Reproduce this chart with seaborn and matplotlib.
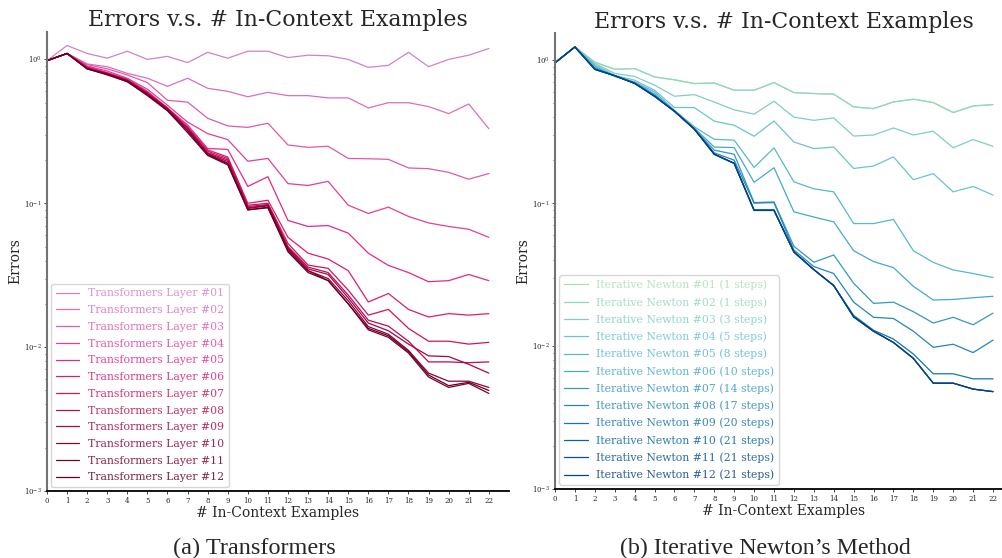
import numpy as np
import pandas as pd
import matplotlib
matplotlib.use('Agg')

import matplotlib.pyplot as plt
from matplotlib.ticker import NullFormatter
import seaborn as sns

# number of in-context examples (x axis)
n_examples = list(range(23))

# (a) Transformers, error per layer
tf_layer01 = [0.98, 1.25, 1.10, 1.02, 1.14, 1.00, 1.05, 0.95, 1.12, 1.02, 1.14, 1.14, 1.03, 1.07, 1.06, 1.00, 0.88, 0.91, 1.12, 0.89, 1.00, 1.07, 1.19]
tf_layer02 = [0.98, 1.10, 0.93, 0.89, 0.80, 0.74, 0.65, 0.74, 0.63, 0.60, 0.55, 0.59, 0.56, 0.56, 0.54, 0.54, 0.46, 0.50, 0.50, 0.47, 0.42, 0.49, 0.33]
tf_layer03 = [0.98, 1.10, 0.92, 0.86, 0.78, 0.69, 0.52, 0.505, 0.39, 0.345, 0.337, 0.36, 0.254, 0.245, 0.249, 0.205, 0.204, 0.202, 0.176, 0.174, 0.164, 0.147, 0.161]
tf_layer04 = [0.98, 1.10, 0.90, 0.83, 0.74, 0.62, 0.48, 0.367, 0.305, 0.277, 0.196, 0.205, 0.137, 0.133, 0.142, 0.097, 0.085, 0.094, 0.081, 0.073, 0.069, 0.066, 0.058]
tf_layer05 = [0.98, 1.10, 0.89, 0.81, 0.73, 0.60, 0.46, 0.35, 0.24, 0.237, 0.131, 0.153, 0.076, 0.069, 0.070, 0.062, 0.045, 0.037, 0.033, 0.0285, 0.029, 0.032, 0.029]
tf_layer06 = [0.98, 1.10, 0.88, 0.80, 0.72, 0.59, 0.455, 0.34, 0.235, 0.21, 0.100, 0.105, 0.058, 0.045, 0.041, 0.034, 0.0206, 0.0236, 0.0183, 0.0162, 0.0171, 0.0167, 0.0171]
tf_layer07 = [0.98, 1.10, 0.88, 0.80, 0.72, 0.585, 0.45, 0.335, 0.23, 0.205, 0.097, 0.100, 0.0525, 0.0372, 0.0353, 0.0249, 0.0167, 0.0183, 0.0135, 0.0110, 0.0110, 0.0105, 0.0108]
tf_layer08 = [0.98, 1.10, 0.87, 0.80, 0.72, 0.58, 0.46, 0.33, 0.225, 0.200, 0.095, 0.098, 0.050, 0.036, 0.033, 0.023, 0.0154, 0.0140, 0.0110, 0.0079, 0.0079, 0.0078, 0.0079]
tf_layer09 = [0.98, 1.10, 0.87, 0.79, 0.71, 0.58, 0.45, 0.33, 0.222, 0.195, 0.093, 0.097, 0.049, 0.035, 0.032, 0.022, 0.0147, 0.0130, 0.0105, 0.0087, 0.0086, 0.0076, 0.0066]
tf_layer10 = [0.98, 1.10, 0.86, 0.79, 0.71, 0.57, 0.45, 0.32, 0.220, 0.190, 0.092, 0.096, 0.048, 0.034, 0.030, 0.021, 0.0139, 0.0123, 0.0095, 0.0066, 0.0058, 0.0058, 0.00525]
tf_layer11 = [0.98, 1.10, 0.86, 0.79, 0.70, 0.57, 0.44, 0.32, 0.218, 0.188, 0.090, 0.094, 0.047, 0.034, 0.029, 0.020, 0.0132, 0.0117, 0.0091, 0.0062, 0.00525, 0.0056, 0.00477]
tf_layer12 = [0.98, 1.10, 0.86, 0.78, 0.70, 0.56, 0.44, 0.31, 0.215, 0.185, 0.090, 0.093, 0.046, 0.033, 0.029, 0.020, 0.0135, 0.0120, 0.0093, 0.0064, 0.0054, 0.0057, 0.0050]

# (b) Iterative Newton, error per number of steps
newton01 = [0.96, 1.24, 0.97, 0.865, 0.875, 0.765, 0.73, 0.687, 0.694, 0.617, 0.617, 0.698, 0.594, 0.585, 0.579, 0.472, 0.459, 0.511, 0.534, 0.506, 0.431, 0.479, 0.49]
newton02 = [0.96, 1.24, 0.97, 0.865, 0.875, 0.765, 0.73, 0.687, 0.694, 0.617, 0.617, 0.698, 0.594, 0.585, 0.579, 0.472, 0.459, 0.511, 0.534, 0.506, 0.431, 0.479, 0.49]
newton03 = [0.96, 1.24, 0.95, 0.81, 0.77, 0.67, 0.56, 0.575, 0.51, 0.45, 0.42, 0.517, 0.40, 0.38, 0.395, 0.295, 0.30, 0.336, 0.30, 0.319, 0.244, 0.279, 0.25]
newton04 = [0.96, 1.24, 0.93, 0.785, 0.725, 0.617, 0.467, 0.467, 0.375, 0.351, 0.294, 0.376, 0.268, 0.241, 0.247, 0.175, 0.182, 0.211, 0.146, 0.161, 0.120, 0.131, 0.114]
newton05 = [0.96, 1.24, 0.91, 0.77, 0.705, 0.60, 0.447, 0.342, 0.28, 0.276, 0.178, 0.244, 0.141, 0.126, 0.120, 0.072, 0.072, 0.077, 0.0465, 0.0385, 0.0341, 0.0322, 0.0302]
newton06 = [0.96, 1.24, 0.89, 0.78, 0.70, 0.58, 0.44, 0.335, 0.247, 0.245, 0.140, 0.177, 0.087, 0.080, 0.074, 0.0465, 0.039, 0.0354, 0.0262, 0.0210, 0.0212, 0.0218, 0.0223]
newton07 = [0.96, 1.24, 0.88, 0.78, 0.69, 0.57, 0.44, 0.33, 0.235, 0.22, 0.101, 0.102, 0.0499, 0.0386, 0.0434, 0.0275, 0.0199, 0.0203, 0.0174, 0.0145, 0.0159, 0.0141, 0.0170]
newton08 = [0.96, 1.24, 0.87, 0.78, 0.69, 0.565, 0.44, 0.33, 0.225, 0.20, 0.100, 0.101, 0.047, 0.036, 0.0322, 0.0203, 0.0159, 0.0156, 0.0127, 0.0098, 0.0103, 0.0090, 0.0110]
newton09 = [0.96, 1.24, 0.865, 0.78, 0.69, 0.56, 0.44, 0.33, 0.22, 0.19, 0.090, 0.090, 0.0455, 0.0343, 0.0265, 0.0164, 0.0129, 0.0112, 0.0088, 0.0064, 0.0064, 0.0059, 0.0059]
newton10 = [0.96, 1.24, 0.865, 0.78, 0.69, 0.56, 0.44, 0.33, 0.22, 0.19, 0.089, 0.089, 0.0455, 0.0343, 0.0265, 0.0160, 0.0127, 0.0106, 0.0082, 0.0055, 0.0055, 0.0050, 0.0048]
newton11 = [0.96, 1.24, 0.865, 0.78, 0.69, 0.56, 0.44, 0.33, 0.22, 0.19, 0.089, 0.089, 0.0455, 0.0343, 0.0265, 0.0160, 0.0127, 0.0106, 0.0082, 0.0055, 0.0055, 0.0050, 0.0048]
newton12 = [0.96, 1.24, 0.865, 0.78, 0.69, 0.56, 0.44, 0.33, 0.22, 0.19, 0.089, 0.089, 0.0455, 0.0343, 0.0265, 0.0160, 0.0127, 0.0106, 0.0082, 0.0055, 0.0055, 0.0050, 0.0048]
newton_steps = [1, 1, 3, 5, 8, 10, 14, 17, 20, 21, 21, 21]

tf_series = [tf_layer01, tf_layer02, tf_layer03, tf_layer04, tf_layer05, tf_layer06,
             tf_layer07, tf_layer08, tf_layer09, tf_layer10, tf_layer11, tf_layer12]
newton_series = [newton01, newton02, newton03, newton04, newton05, newton06,
                 newton07, newton08, newton09, newton10, newton11, newton12]
tf_labels = [f"Transformers Layer #{i:02d}" for i in range(1, 13)]
newton_labels = [f"Iterative Newton #{i:02d} ({s} steps)" for i, s in enumerate(newton_steps, 1)]


def long_table(series, labels):
    rows = []
    for lab, vals in zip(labels, series):
        for n, v in zip(n_examples, vals):
            rows.append({"n": n, "err": v, "label": lab})
    return pd.DataFrame(rows)


sns.set_style("white")
plt.rcParams['font.family'] = ['DejaVu Serif']
plt.rcParams['mathtext.fontset'] = 'dejavuserif'

fig = plt.figure(figsize=(10.02, 5.58), dpi=100)
ax_a = fig.add_axes([0.0469, 0.120, 0.461, 0.8226])
ax_b = fig.add_axes([0.5539, 0.1237, 0.457, 0.817])

tf_colors = [plt.get_cmap('PuRd')(v) for v in np.linspace(0.42, 1.0, 12)]
nw_colors = [plt.get_cmap('GnBu')(v) for v in np.linspace(0.37, 1.0, 12)]

for ax, series, labels, colors in [(ax_a, tf_series, tf_labels, tf_colors),
                                   (ax_b, newton_series, newton_labels, nw_colors)]:
    df = long_table(series, labels)
    sns.lineplot(data=df, x="n", y="err", hue="label", hue_order=labels,
                 palette=colors, estimator=None, linewidth=0.9, ax=ax)
    ax.set_yscale('log')
    ax.set_ylim(1e-3, 1.55)
    ax.set_xlim(0, 23)
    ax.set_xticks(n_examples)
    ax.yaxis.set_minor_formatter(NullFormatter())
    ax.tick_params(axis='both', which='major', labelsize=5, length=2.5, width=0.6, pad=1.5, left=True, bottom=True)
    ax.tick_params(axis='y', which='minor', length=1.5, width=0.5, left=True)
    sns.despine(ax=ax)
    ax.spines['left'].set_color('0.45')
    ax.spines['left'].set_linewidth(1.5)
    ax.spines['bottom'].set_color('black')
    ax.spines['bottom'].set_linewidth(1.3)
    ax.set_title("Errors v.s. # In-Context Examples", fontsize=15.8, pad=4)
    ax.set_xlabel("# In-Context Examples", fontsize=10, labelpad=1)
    ax.set_ylabel("Errors", fontsize=10, labelpad=1)
    handles, labs = ax.get_legend_handles_labels()
    leg = ax.legend(handles, labs, loc='lower left', fontsize=7.8, labelcolor='linecolor',
                    frameon=True, handlelength=2.2, labelspacing=0.62, borderaxespad=0.4)
    for t in leg.get_texts():
        t.set_alpha(0.85)

fig.text(0.254, 0.018, "(a) Transformers", ha='center', va='center',
         fontsize=17.5, family=['Liberation Serif'])
fig.text(0.764, 0.018, "(b) Iterative Newton\u2019s Method", ha='center', va='center',
         fontsize=17.2, family=['Liberation Serif'])

fig.savefig("out.png", dpi=100)
